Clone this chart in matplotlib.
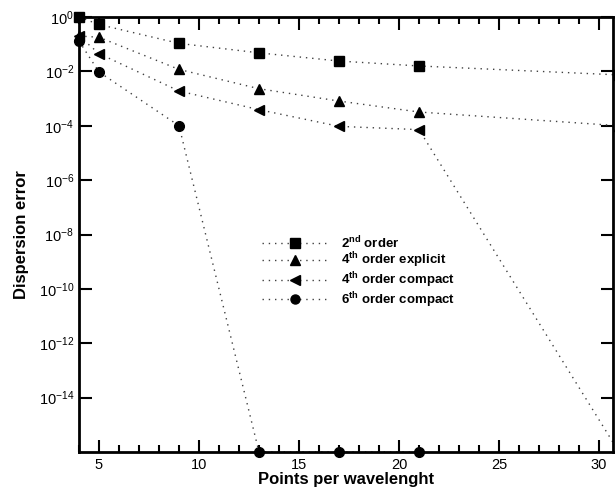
import numpy as np
import matplotlib
matplotlib.use("Agg")
import matplotlib.pyplot as plt
from matplotlib.ticker import FixedLocator, MultipleLocator, NullLocator

plt.rcParams.update({
    "font.family": ["Liberation Sans", "DejaVu Sans"],
    "font.size": 10,
    "mathtext.fontset": "custom",
    "mathtext.rm": "Liberation Sans",
    "mathtext.bf": "Liberation Sans:bold",
    "mathtext.it": "Liberation Sans:italic",
})

# ===========================
# Data
# ===========================
ppw = np.array([4, 5, 9, 13, 17, 21, 31])

err_2nd = np.array([1.0, 0.53, 0.107, 0.048, 0.024, 0.0158, 0.0074])
err_4th_exp = np.array([0.2, 0.18, 0.0118, 0.0023, 8.1e-4, 3.2e-4, 1.0e-4])
err_4th_cmp = np.array([0.2, 0.045, 0.0019, 3.9e-4, 9.5e-5, 7.2e-5, 1e-16])
err_6th_cmp = np.array([0.13, 0.0095, 1.0e-4, 1e-16, 1e-16, 1e-16])

labels = [r"2$^{\mathbf{nd}}$ order",
          r"4$^{\mathbf{th}}$ order explicit",
          r"4$^{\mathbf{th}}$ order compact",
          r"6$^{\mathbf{th}}$ order compact"]

series = [
    (ppw, err_2nd, "s", 7.5),
    (ppw, err_4th_exp, "^", 7.5),
    (ppw, err_4th_cmp, "<", 7.5),
    (ppw[:6], err_6th_cmp, "o", 7),
]

dots = (0, (1, 3.5))

# ===========================
# Plot
# ===========================
fig = plt.figure(figsize=(6.15, 4.88), dpi=100)
ax = fig.add_axes([79 / 615, 36 / 488, 534 / 615, 435 / 488])

handles = []
for (x, y, mk, ms), lab in zip(series, labels):
    ax.plot(x, y, linestyle=dots, color="0.25", linewidth=1.0)
    ax.plot(x, y, linestyle="none", marker=mk, color="black",
            markersize=ms, clip_on=False, zorder=5)
    h, = ax.plot([], [], linestyle=dots, color="0.25", linewidth=1.0,
                 marker=mk, markersize=ms - 0.5, markerfacecolor="black",
                 markeredgecolor="black")
    handles.append(h)

ax.set_yscale("log")
ax.set_xlim(4, 30.7)
ax.set_ylim(1e-16, 1)

yt = 10.0 ** np.arange(-14, 1, 2)
ax.yaxis.set_major_locator(FixedLocator(yt))
ax.yaxis.set_minor_locator(NullLocator())
ax.set_yticklabels([r"10$^{%d}$" % int(np.log10(v)) for v in yt])
ax.xaxis.set_major_locator(MultipleLocator(5))
ax.xaxis.set_minor_locator(MultipleLocator(1))

ax.tick_params(which="both", direction="in", top=True, right=True,
               width=1.5, labelsize=10.5)
ax.tick_params(which="major", length=9)
ax.tick_params(which="minor", length=5)
ax.tick_params(axis="x", pad=4)
for s in ax.spines.values():
    s.set_linewidth(2)

ax.set_xlabel("Points per wavelenght", fontweight="bold", fontsize=12,
              labelpad=0)
ax.set_ylabel("Dispersion error", fontweight="bold", fontsize=12,
              labelpad=7)

ax.legend(handles, labels, loc="center left", bbox_to_anchor=(0.343, 0.414),
          frameon=False, handlelength=5.0, handletextpad=1.0,
          borderaxespad=0, borderpad=0, labelspacing=0.0,
          prop={"weight": "bold", "size": 9.5})

plt.savefig("out.png", dpi=100)
